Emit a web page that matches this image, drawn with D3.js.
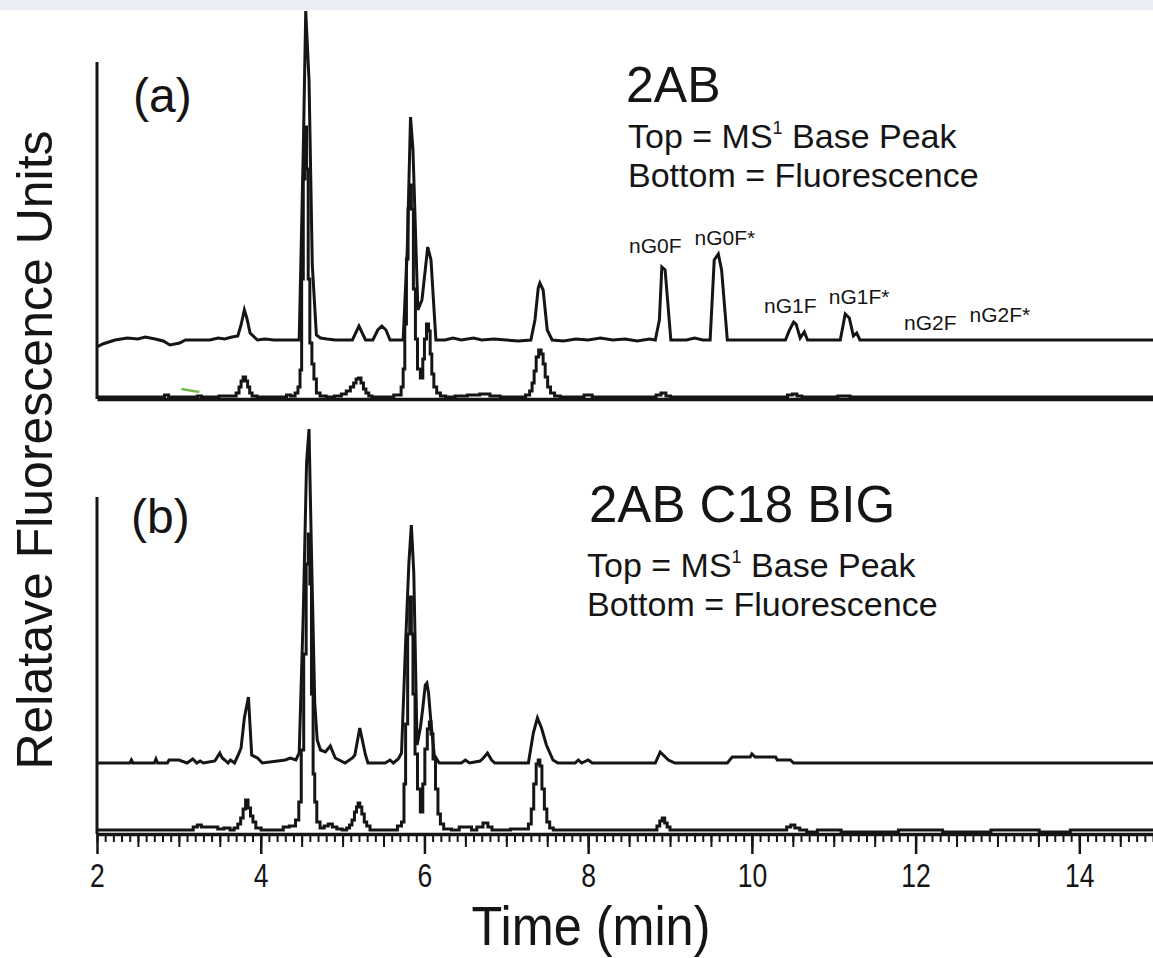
<!DOCTYPE html>
<html>
<head>
<meta charset="utf-8">
<script src="https://cdn.jsdelivr.net/npm/d3@7"></script>
<style>
  body { margin: 0; background: #fff; }
  svg { display: block; font-family: "Liberation Sans", Arial, sans-serif; }
</style>
</head>
<body>
<svg width="1153" height="958"></svg>
<script>
// ---- data (time in min, intensity in arbitrary units above each trace baseline) ----

// panel (a) 2AB, MS1 base peak
var msA = [[2.00,-7],[2.07,-4],[2.22,0],[2.37,2],[2.50,1],[2.59,3],[2.71,1],[2.81,-1],[2.89,-5],[3.01,-3],[3.08,0],
  [3.38,0],[3.48,2],[3.56,1],[3.65,3],[3.72,4],[3.76,15],[3.80,30],[3.83,22],[3.87,7],[3.96,0],[4.05,1],[4.16,0],
  [4.47,0],[4.52,190],[4.55,329],[4.59,260],[4.63,75],[4.68,5],[4.73,2],[4.81,1],[4.91,0],[5.12,0],[5.20,14],[5.28,0],
  [5.37,0],[5.43,10],[5.48,14],[5.53,10],[5.58,0],[5.74,0],[5.79,90],[5.83,223],[5.86,190],[5.92,30],[5.97,40],
  [6.04,93],[6.08,80],[6.14,0],[6.25,0],[6.35,2],[6.45,0],[6.60,2],[6.70,0],[6.85,1],[7.00,0],[7.15,-1],[7.30,0],
  [7.35,20],[7.39,52],[7.41,57],[7.45,50],[7.50,10],[7.56,0],[7.70,-1],[7.85,1],[8.00,0],[8.15,2],[8.30,0],[8.45,1],
  [8.60,-1],[8.75,1],[8.82,0],[8.87,20],[8.90,73],[8.94,70],[9.01,0],[9.20,0],[9.30,2],[9.40,0],[9.49,0],[9.54,80],
  [9.59,86],[9.63,70],[9.70,0],[10.41,0],[10.46,10],[10.51,18],[10.54,16],[10.59,2],[10.64,8],[10.68,0],[11.08,0],
  [11.14,26],[11.19,22],[11.24,4],[11.28,7],[11.32,0],[14.90,0]];

// panel (a) 2AB, fluorescence
var flA = [[2.00,2],[2.80,2],[2.85,4],[2.90,2],[3.20,2],[3.25,3],[3.30,2],[3.68,3],[3.72,6],[3.75,12],[3.77,18],
  [3.80,22],[3.83,18],[3.85,12],[3.88,6],[3.91,3],[4.00,2],[4.30,2],[4.33,4],[4.40,3],[4.44,6],[4.47,12],[4.49,29],
  [4.51,120],[4.53,220],[4.55,272],[4.57,230],[4.59,120],[4.61,56],[4.64,35],[4.66,20],[4.70,6],[4.75,3],[4.85,2],
  [4.95,3],[5.02,5],[5.07,8],[5.12,12],[5.15,16],[5.18,20],[5.21,21],[5.24,16],[5.27,10],[5.30,6],[5.34,3],[5.38,2],
  [5.55,2],[5.70,4],[5.73,12],[5.75,30],[5.77,75],[5.79,140],[5.81,190],[5.83,214],[5.85,190],[5.88,110],[5.90,60],
  [5.93,30],[5.97,21],[5.99,40],[6.01,60],[6.04,75],[6.06,68],[6.08,45],[6.10,25],[6.13,12],[6.17,6],[6.22,3],
  [6.30,2],[6.45,3],[6.60,4],[6.75,5],[6.85,3],[7.00,2],[7.20,2],[7.27,4],[7.30,8],[7.33,16],[7.35,28],[7.38,42],
  [7.41,49],[7.44,45],[7.46,35],[7.49,22],[7.52,12],[7.56,6],[7.62,3],[7.70,2],[7.90,2],[8.00,4],[8.10,2],[8.80,2],
  [8.86,4],[8.92,6],[8.98,3],[9.03,2],[10.40,2],[10.47,4],[10.52,5],[10.58,3],[10.64,2],[11.00,2],[11.10,3],
  [11.30,2],[14.90,2]];

// panel (b) 2AB C18 BIG, MS1 base peak
var msB = [[2.00,0],[2.40,0],[2.42,3],[2.44,0],[2.70,0],[2.72,4],[2.74,0],[2.86,0],[2.88,3],[3.00,3],[3.10,0],
  [3.17,4],[3.22,0],[3.26,2],[3.30,0],[3.44,2],[3.47,6],[3.50,10],[3.53,5],[3.56,3],[3.60,0],[3.63,3],[3.68,0],
  [3.72,7],[3.76,15],[3.80,45],[3.85,66],[3.89,8],[3.96,5],[4.02,0],[4.30,3],[4.36,5],[4.43,3],[4.47,10],[4.52,150],
  [4.56,300],[4.59,334],[4.62,210],[4.66,60],[4.69,23],[4.73,13],[4.79,11],[4.85,17],[4.91,5],[5.03,0],[5.12,5],
  [5.15,8],[5.21,35],[5.28,8],[5.31,0],[5.52,0],[5.58,3],[5.62,0],[5.68,4],[5.72,10],[5.77,120],[5.81,200],
  [5.84,238],[5.87,190],[5.91,18],[5.95,35],[5.98,55],[6.01,78],[6.03,80],[6.05,70],[6.08,40],[6.12,8],[6.18,0],
  [6.45,0],[6.50,3],[6.55,0],[6.68,2],[6.72,5],[6.77,10],[6.82,3],[6.86,0],[7.27,0],[7.33,30],[7.38,45],[7.43,35],
  [7.49,18],[7.57,3],[7.63,0],[7.84,0],[7.88,3],[7.92,0],[8.00,3],[8.05,0],[8.82,0],[8.88,11],[8.98,3],[9.06,0],
  [9.70,0],[9.76,6],[9.98,6],[10.00,9],[10.04,6],[10.29,6],[10.31,3],[10.47,3],[10.51,0],[14.90,0]];

// panel (b) 2AB C18 BIG, fluorescence
var flB = [[2.00,4],[3.15,4],[3.20,7],[3.25,9],[3.30,7],[3.45,7],[3.50,5],[3.60,6],[3.65,4],[3.70,6],[3.74,10],
  [3.77,16],[3.80,25],[3.83,34],[3.86,26],[3.89,18],[3.92,12],[3.96,6],[4.05,4],[4.25,4],[4.30,7],[4.40,8],[4.45,14],
  [4.48,32],[4.51,84],[4.54,180],[4.57,270],[4.59,300],[4.61,250],[4.63,140],[4.65,60],[4.67,32],[4.70,12],[4.75,6],
  [4.80,8],[4.85,10],[4.90,7],[4.96,5],[5.03,4],[5.07,6],[5.10,9],[5.13,14],[5.16,22],[5.18,27],[5.20,31],[5.22,27],
  [5.25,20],[5.28,12],[5.31,8],[5.36,4],[5.64,4],[5.70,8],[5.74,12],[5.76,50],[5.78,110],[5.81,200],[5.83,237],
  [5.85,200],[5.87,140],[5.90,80],[5.93,45],[5.97,22],[5.99,50],[6.02,85],[6.05,105],[6.07,112],[6.09,100],
  [6.12,75],[6.15,45],[6.18,20],[6.21,10],[6.26,5],[6.40,4],[6.45,7],[6.55,7],[6.60,4],[6.68,7],[6.75,11],[6.80,7],
  [6.85,4],[7.25,5],[7.29,10],[7.32,25],[7.35,50],[7.38,70],[7.40,74],[7.42,68],[7.45,45],[7.48,25],[7.51,12],
  [7.55,6],[7.60,4],[8.82,4],[8.86,8],[8.89,13],[8.92,16],[8.95,11],[8.98,7],[9.02,4],[10.40,4],[10.45,7],
  [10.50,9],[10.55,6],[10.62,4],[10.72,2],[10.88,4],[11.30,2],[12.28,4],[12.38,2],[13.46,4],[13.56,2],[14.22,4],
  [14.90,4]];

// glycan peak labels in panel (a): name, time, height
var peakNames = ['nG0F', 'nG0F*', 'nG1F', 'nG1F*', 'nG2F', 'nG2F*'];
var peakTimes = [8.82, 9.67, 10.47, 11.31, 12.18, 13.03];
var peakHeights = [146, 154, 86, 95, 69, 77];

var majorTicks = [2, 4, 6, 8, 10, 12, 14];

// ---- setup ----
var svg = d3.select('svg');
var ink = '#151515';

// faint watermark strip along the top edge of the original slide
svg.append('rect').attr('x', 0).attr('y', 0).attr('width', 1153).attr('height', 10).attr('fill', '#e9eef4');

var x = d3.scaleLinear().domain([2, 14.9]).range([97, 1153]);
var yA = d3.scaleLinear().domain([0, 390]).range([399, 9]);
var yB = d3.scaleLinear().domain([0, 405]).range([834, 429]);

// where each trace sits in its panel
var msOffA = 59, flOffA = 0, msOffB = 71, flOffB = 0;
var axisTop = 337;

function trace(data, y, off, curve) {
  svg.append('path')
    .datum(data)
    .attr('fill', 'none')
    .attr('stroke', ink)
    .attr('stroke-width', 3)
    .attr('stroke-linejoin', 'miter')
    .attr('d', d3.line()
      .x(d => x(d[0]))
      .y(d => y(d[1] + off))
      .curve(curve));
}

// ---- panel (a) ----
svg.append('line')
  .attr('x1', x(2)).attr('x2', x(2))
  .attr('y1', yA(axisTop)).attr('y2', yA(0))
  .attr('stroke', ink).attr('stroke-width', 3);

svg.append('g')
  .attr('transform', `translate(0,${yA(0)})`)
  .call(d3.axisBottom(x).tickValues([]).tickSizeOuter(0))
  .select('.domain').attr('stroke', ink).attr('stroke-width', 3.5);

trace(flA, yA, flOffA, d3.curveStep);
trace(msA, yA, msOffA, d3.curveLinear);

// stray green mark in the original
svg.append('line')
  .attr('x1', x(3.03)).attr('x2', x(3.25))
  .attr('y1', yA(10)).attr('y2', yA(7))
  .attr('stroke', '#74b84a').attr('stroke-width', 2.5);

svg.append('text').attr('x', 133).attr('y', 112)
  .attr('font-size', 48).attr('fill', ink).text('(a)');

svg.append('text').attr('x', 626).attr('y', 102)
  .attr('font-size', 50).attr('fill', ink).text('2AB');

function legendLines(x0, y0) {
  var t = svg.append('text').attr('x', x0).attr('y', y0).attr('font-size', 34).attr('fill', ink);
  t.append('tspan').text('Top = MS');
  t.append('tspan').attr('font-size', 18).attr('dy', -14).text('1');
  t.append('tspan').attr('dy', 14).text(' Base Peak');
  svg.append('text').attr('x', x0).attr('y', y0 + 39)
    .attr('font-size', 34).attr('fill', ink).text('Bottom = Fluorescence');
}
legendLines(628, 148);

svg.selectAll('.peak')
  .data(peakNames)
  .enter()
  .append('text')
  .attr('class', 'peak')
  .attr('x', (d, i) => x(peakTimes[i]))
  .attr('y', (d, i) => yA(peakHeights[i]))
  .attr('text-anchor', 'middle')
  .attr('font-size', 21)
  .attr('fill', ink)
  .text(d => d);

// ---- panel (b) ----
svg.append('line')
  .attr('x1', x(2)).attr('x2', x(2))
  .attr('y1', yB(axisTop)).attr('y2', yB(0))
  .attr('stroke', ink).attr('stroke-width', 3);

var minorTicks = d3.range(20, 150).map(i => i / 10);
var midTicks = d3.range(5, 30).map(i => i / 2);

function tickLayer(values, size) {
  var g = svg.append('g')
    .attr('transform', `translate(0,${yB(0)})`)
    .call(d3.axisBottom(x).tickValues(values).tickSize(size).tickSizeOuter(0).tickFormat(''));
  g.selectAll('line').attr('stroke', ink).attr('stroke-width', 2);
  return g;
}
tickLayer(minorTicks, 8).select('.domain').attr('stroke', ink).attr('stroke-width', 3.5);
tickLayer(midTicks, 13).select('.domain').remove();

var major = svg.append('g')
  .attr('transform', `translate(0,${yB(0)})`)
  .call(d3.axisBottom(x).tickValues(majorTicks).tickSize(20).tickSizeOuter(0).tickPadding(9)
    .tickFormat(d3.format('d')));
major.attr('font-size', 34).attr('font-family', '"Liberation Sans", Arial, sans-serif');
major.select('.domain').remove();
major.selectAll('line').attr('stroke', ink).attr('stroke-width', 2.5);
major.selectAll('text')
  .attr('fill', ink)
  .attr('transform', 'scale(0.78,1)');

trace(flB, yB, flOffB, d3.curveStep);
trace(msB, yB, msOffB, d3.curveLinear);

svg.append('text').attr('x', 131).attr('y', 533)
  .attr('font-size', 48).attr('fill', ink).text('(b)');

svg.append('text').attr('x', 589).attr('y', 522)
  .attr('font-size', 51).attr('fill', ink).text('2AB C18 BIG');

legendLines(587, 577);

// ---- axis titles ----
svg.append('text')
  .attr('transform', 'translate(591,945) scale(0.9,1)')
  .attr('text-anchor', 'middle')
  .attr('font-size', 56)
  .attr('fill', ink)
  .text('Time (min)');

svg.append('text')
  .attr('transform', 'translate(52,450) rotate(-90)')
  .attr('text-anchor', 'middle')
  .attr('font-size', 50)
  .attr('fill', ink)
  .text('Relatave Fluorescence Units');
</script>
</body>
</html>
